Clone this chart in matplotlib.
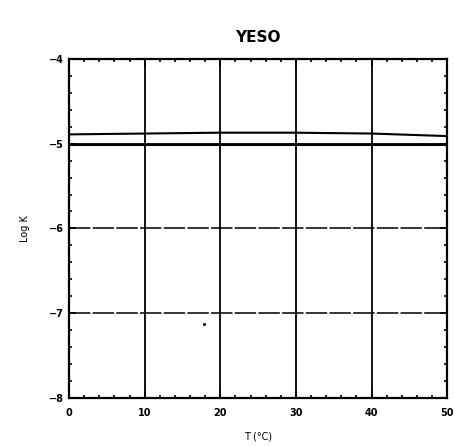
import numpy as np
import matplotlib.pyplot as plt
from matplotlib.ticker import MultipleLocator

# Data
temp = [0, 10, 20, 30, 40, 50]
logk_upper = [-4.89, -4.88, -4.87, -4.87, -4.88, -4.91]
logk_lower = [-5.01, -5.01, -5.01, -5.01, -5.01, -5.01]
stray_x = [17.8]
stray_y = [-7.13]

fig = plt.figure(figsize=(4.54, 4.47), dpi=100)
ax = fig.add_axes([0.152, 0.110, 0.833, 0.758])

# Grid lines
for xv in [10, 20, 30, 40]:
    ax.axvline(xv, color='black', lw=1.3, zorder=1)
ax.axhline(-5, color='black', lw=1.3, zorder=1)
for yv in [-6, -7]:
    ax.axhline(yv, color='black', lw=1.1, linestyle=(0, (14, 1.5)), zorder=1)

ax.plot(temp, logk_upper, color='black', lw=1.5, zorder=2)
ax.plot(temp, logk_lower, color='black', lw=1.5, zorder=2)
ax.plot(stray_x, stray_y, marker='.', color='black', ms=2.5, linestyle='None')

ax.set_xlim(0, 50)
ax.set_ylim(-8, -4)
ax.xaxis.set_major_locator(MultipleLocator(10))
ax.yaxis.set_major_locator(MultipleLocator(1))
ax.xaxis.set_minor_locator(MultipleLocator(2))
ax.yaxis.set_minor_locator(MultipleLocator(0.2))
ax.tick_params(which='both', direction='in', top=True, right=True,
               labelsize=7, width=1.2)
ax.tick_params(which='major', length=5)
ax.tick_params(which='minor', length=2.5)
ax.tick_params(axis='x', pad=7)
for lab in ax.get_xticklabels() + ax.get_yticklabels():
    lab.set_fontweight('bold')
for s in ax.spines.values():
    s.set_linewidth(1.6)

ax.set_title('YESO', fontsize=11, fontweight='semibold', pad=12)
ax.set_xlabel('T (°C)', fontsize=7, labelpad=10)
ax.set_ylabel('Log K', fontsize=7, labelpad=14)

fig.savefig('out.png', dpi=100)
